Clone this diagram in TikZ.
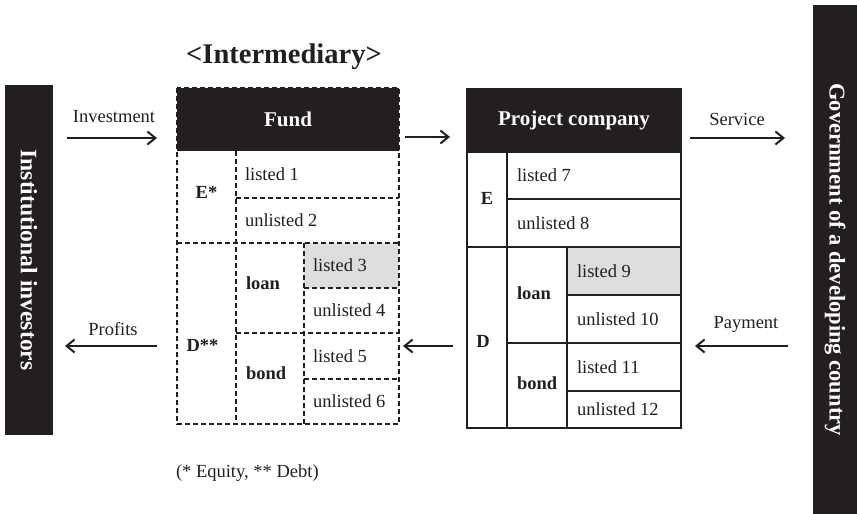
\documentclass[tikz,border=0pt]{standalone}
\usepackage{fontspec}
\setmainfont{Liberation Serif}
\usetikzlibrary{arrows.meta}
\definecolor{ink}{HTML}{231F20}
\definecolor{cellgray}{HTML}{DCDDDE}
\begin{document}
\begin{tikzpicture}[x=1pt,y=-1pt,
  every node/.style={inner sep=0pt, outer sep=0pt},
  cellbox/.style={anchor=north west},
  pcbox/.style={anchor=north west, draw=ink, line width=2.2pt},
  fundline/.style={draw=ink, line width=2pt, dash pattern=on 5pt off 3pt},
  txt/.style={font=\fontsize{18.5}{22}\selectfont, text=ink},
  btxt/.style={font=\fontsize{18.5}{22}\selectfont\bfseries, text=ink},
  hdtext/.style={font=\fontsize{21}{25}\selectfont\bfseries, text=white},
  bartext/.style={font=\fontsize{23}{27}\selectfont\bfseries, text=white, rotate=-90},
  flow/.style={draw=ink, line width=2pt, -{Straight Barb[length=8pt,width=13pt]}}
]
\useasboundingbox (0,0) rectangle (857,514);

% side bars
\node[cellbox, fill=ink, minimum width=48, minimum height=350] (lbar) at (5,85) {};
\node[bartext, font=\fontsize{23.6}{28}\selectfont\bfseries] (lbartxt) at (lbar.center) {Institutional investors};
\node[cellbox, fill=ink, minimum width=44, minimum height=509] (rbar) at (813,5) {};
\node[bartext, font=\fontsize{22.5}{27}\selectfont\bfseries] (rbartxt) at (rbar.center) {Government of a developing country};

% title
\node[font=\fontsize{28.5}{33}\selectfont\bfseries, text=ink, anchor=base] (title) at (284,63) {<Intermediary>};

% Fund cells
\node[cellbox, fill=ink, minimum width=222, minimum height=63] (fhead) at (177,88) {};
\node[cellbox, minimum width=59, minimum height=92] (fE) at (177,151) {};
\node[cellbox, minimum width=163, minimum height=47] (f1) at (236,151) {};
\node[cellbox, minimum width=163, minimum height=45] (f2) at (236,198) {};
\node[cellbox, minimum width=59, minimum height=181] (fD) at (177,243) {};
\node[cellbox, minimum width=68, minimum height=90] (floan) at (236,243) {};
\node[cellbox, minimum width=68, minimum height=91] (fbond) at (236,333) {};
\node[cellbox, fill=cellgray, minimum width=95, minimum height=45] (f3) at (304,243) {};
\node[cellbox, minimum width=95, minimum height=45] (f4) at (304,288) {};
\node[cellbox, minimum width=95, minimum height=46] (f5) at (304,333) {};
\node[cellbox, minimum width=95, minimum height=45] (f6) at (304,379) {};

\path[fundline] (fhead.north west) rectangle (f6.south east);
\path[fundline] (fE.north east) -- (fD.south east);
\path[fundline] (f3.north west) -- (f6.south west);
\path[fundline] (f1.south west) -- (f1.south east);
\path[fundline] (fE.south west) -- (f2.south east);
\path[fundline] (floan.south west) -- (f4.south east);
\path[fundline] (f3.south west) -- (f3.south east);
\path[fundline] (f5.south west) -- (f5.south east);

\node[hdtext] (fundlbl) at (fhead.center) {Fund};
\node[btxt] (fElbl) at ([yshift=5pt]fE.center) {E*};
\node[btxt] (fDlbl) at ([xshift=-4pt,yshift=-12pt]fD.center) {D**};
\node[txt, anchor=west] (f1lbl) at ([xshift=9pt]f1.west) {listed 1};
\node[txt, anchor=west] (f2lbl) at ([xshift=9pt]f2.west) {unlisted 2};
\node[btxt, anchor=west] (floanlbl) at ([xshift=10pt,yshift=5pt]floan.west) {loan};
\node[btxt, anchor=west] (fbondlbl) at ([xshift=10pt,yshift=5pt]fbond.west) {bond};
\node[txt, anchor=west] (f3lbl) at ([xshift=9pt]f3.west) {listed 3};
\node[txt, anchor=west] (f4lbl) at ([xshift=9pt]f4.west) {unlisted 4};
\node[txt, anchor=west] (f5lbl) at ([xshift=9pt]f5.west) {listed 5};
\node[txt, anchor=west] (f6lbl) at ([xshift=9pt]f6.west) {unlisted 6};

% Project company cells
\node[pcbox, fill=ink, minimum width=214, minimum height=63] (phead) at (467,89) {};
\node[pcbox, minimum width=40, minimum height=95] (pE) at (467,152) {};
\node[pcbox, minimum width=174, minimum height=47] (p7) at (507,152) {};
\node[pcbox, minimum width=174, minimum height=48] (p8) at (507,199) {};
\node[pcbox, minimum width=40, minimum height=181] (pD) at (467,247) {};
\node[pcbox, minimum width=60, minimum height=96] (ploan) at (507,247) {};
\node[pcbox, minimum width=60, minimum height=85] (pbond) at (507,343) {};
\node[pcbox, fill=cellgray, minimum width=114, minimum height=48] (p9) at (567,247) {};
\node[pcbox, minimum width=114, minimum height=48] (p10) at (567,295) {};
\node[pcbox, minimum width=114, minimum height=48] (p11) at (567,343) {};
\node[pcbox, minimum width=114, minimum height=37] (p12) at (567,391) {};

\node[hdtext] (pclbl) at (phead.center) {Project company};
\node[btxt] (pElbl) at ([yshift=1pt]pE.center) {E};
\node[btxt] (pDlbl) at ([xshift=-4pt,yshift=-4pt]pD.center) {D};
\node[txt, anchor=west] (p7lbl) at ([xshift=10pt]p7.west) {listed 7};
\node[txt, anchor=west] (p8lbl) at ([xshift=10pt]p8.west) {unlisted 8};
\node[btxt, anchor=west] (ploanlbl) at ([xshift=10pt,yshift=2pt]ploan.west) {loan};
\node[btxt, anchor=west] (pbondlbl) at ([xshift=10pt,yshift=2pt]pbond.west) {bond};
\node[txt, anchor=west] (p9lbl) at ([xshift=10pt]p9.west) {listed 9};
\node[txt, anchor=west] (p10lbl) at ([xshift=10pt]p10.west) {unlisted 10};
\node[txt, anchor=west] (p11lbl) at ([xshift=10pt]p11.west) {listed 11};
\node[txt, anchor=west] (p12lbl) at ([xshift=10pt]p12.west) {unlisted 12};

% arrows
\coordinate (invS) at (67,138);  \coordinate (invE) at (157,138);
\coordinate (proS) at (157,346); \coordinate (proE) at (65,346);
\coordinate (fpS) at (405,137);  \coordinate (fpE) at (450,137);
\coordinate (pfS) at (453,346);  \coordinate (pfE) at (403,346);
\coordinate (srvS) at (690,138); \coordinate (srvE) at (785,138);
\coordinate (payS) at (788,346); \coordinate (payE) at (695,346);
\draw[flow] (invS) -- (invE);
\draw[flow] (proS) -- (proE);
\draw[flow] (fpS) -- (fpE);
\draw[flow] (pfS) -- (pfE);
\draw[flow] (srvS) -- (srvE);
\draw[flow] (payS) -- (payE);

\node[txt, anchor=base] (invlbl) at (114,122) {Investment};
\node[txt, anchor=base] (prolbl) at (113,335) {Profits};
\node[txt, anchor=base] (srvlbl) at (737,125) {Service};
\node[txt, anchor=base] (paylbl) at (746,328) {Payment};

\node[txt, anchor=base west] (note) at (176,477) {(* Equity, ** Debt)};
\end{tikzpicture}
\end{document}
